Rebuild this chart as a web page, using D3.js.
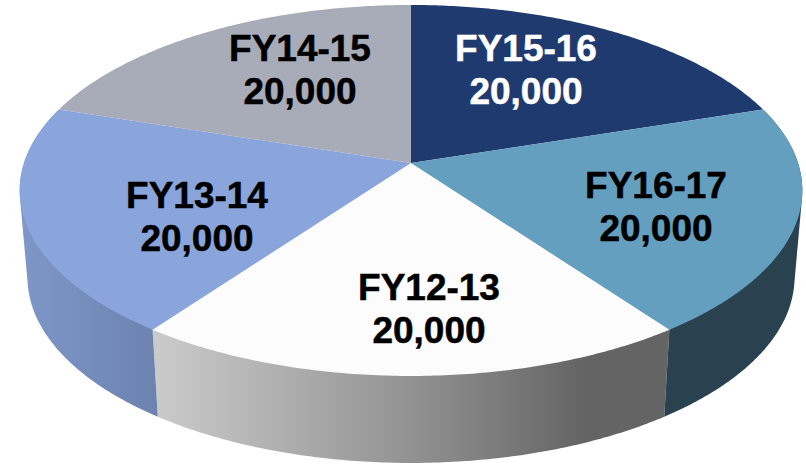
<!DOCTYPE html>
<html>
<head>
<script src="https://cdn.jsdelivr.net/npm/d3@7"></script>
<style>
  html, body { margin: 0; padding: 0; background: #fff; }
  svg { display: block; }
  text { font-family: "Liberation Sans", Arial, sans-serif; font-weight: bold; font-size: 37px; text-anchor: middle; stroke-width: 0.5px; }
</style>
</head>
<body>
<script>
// data, starting from the front slice and going clockwise
var categories = ["FY12-13", "FY13-14", "FY14-15", "FY15-16", "FY16-17"];
var values = [20000, 20000, 20000, 20000, 20000];

// styling per slice
var topColors = ["#fcfcfc", "#8aa5db", "#a8abb8", "#1f3a6e", "#659fbf"];
var textColors = ["#000", "#000", "#000", "#fff", "#000"];
var labelX = [429, 197, 300, 526, 656];
var labelY = [287, 195, 48, 48, 185];

var width = 806, height = 466;
var svg = d3.select("body").append("svg")
    .attr("width", width)
    .attr("height", height);

// perspective tilt of the disc: v=-1 is the far rim, v=1 the near rim
var cx = 411, k = 387, persp = -0.148;
var vY = d3.scaleLinear().domain([-1, 1]).range([163 - 157.3, 163 + 157.3]);
var depth = 87, bottomShrink = 0.98;

function project(angle) {
  var u = Math.sin(angle), v = -Math.cos(angle);
  var w = 1 + persp * v;
  return [cx + k * u / w, vY(v) / w];
}
function projectBottom(angle) {
  var p = project(angle);
  return [cx + (p[0] - cx) * bottomShrink, p[1] + depth];
}
function rimAngles(a0, a1) {
  return d3.range(0, 121).map(function(i) { return a0 + (a1 - a0) * i / 120; });
}

var pie = d3.pie().sort(null)
    .startAngle(144 * Math.PI / 180)
    .endAngle((144 + 360) * Math.PI / 180);
var slices = pie(values);
var line = d3.line();

var defs = svg.append("defs");
function sideGradient(id, x1, x2, stops) {
  var g = defs.append("linearGradient").attr("id", id)
      .attr("gradientUnits", "userSpaceOnUse")
      .attr("x1", x1).attr("x2", x2).attr("y1", 0).attr("y2", 0);
  stops.forEach(function(s) {
    g.append("stop").attr("offset", s[0]).attr("stop-color", s[1]);
  });
}
sideGradient("sideGrey", 159, 662, [[0, "#cacaca"], [0.5, "#929292"], [0.85, "#646464"], [1, "#646464"]]);
sideGradient("sideBlue", 19, 159, [[0, "#7f97c8"], [1, "#6c83b0"]]);

var sideFills = ["url(#sideGrey)", "url(#sideBlue)", null, null, "#2a414f"];

// sides first, the top face covers whatever sticks out
// hull so the outer edge runs straight off the widest point of the rim
svg.append("g").selectAll("path")
    .data(slices.filter(function(d) { return sideFills[d.index]; }))
    .enter().append("path")
    .attr("fill", function(d) { return sideFills[d.index]; })
    .attr("d", function(d) {
      var a = rimAngles(d.startAngle, d.endAngle);
      return line(d3.polygonHull(a.map(project).concat(a.map(projectBottom)))) + "Z";
    });

svg.append("g").selectAll("path")
    .data(slices)
    .enter().append("path")
    .attr("fill", function(d) { return topColors[d.index]; })
    .attr("d", function(d) {
      var pts = rimAngles(d.startAngle, d.endAngle).map(project);
      pts.push([cx, vY(0)]);
      return line(pts) + "Z";
    });

var labels = svg.append("g").selectAll("text")
    .data(slices)
    .enter().append("text")
    .attr("fill", function(d) { return textColors[d.index]; })
    .attr("stroke", function(d) { return textColors[d.index]; });
labels.append("tspan")
    .attr("x", function(d) { return labelX[d.index]; })
    .attr("y", function(d) { return labelY[d.index] + 13; })
    .text(function(d) { return categories[d.index]; });
labels.append("tspan")
    .attr("x", function(d) { return labelX[d.index]; })
    .attr("y", function(d) { return labelY[d.index] + 56; })
    .text(function(d) { return d3.format(",")(d.value); });
</script>
</body>
</html>
